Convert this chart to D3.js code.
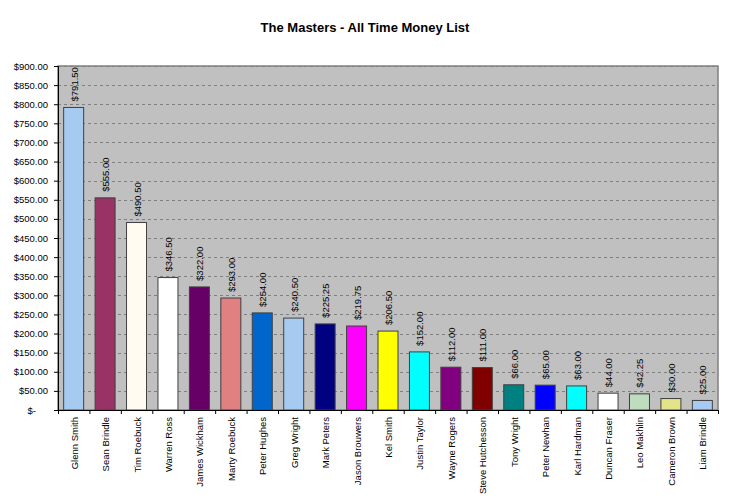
<!DOCTYPE html>
<html><head><meta charset="utf-8">
<script src="https://cdn.jsdelivr.net/npm/d3@7"></script>
<style>body{margin:0;background:#fff}svg{display:block;font-family:"Liberation Sans",Arial,sans-serif}</style>
</head><body><svg id="c" width="730" height="499"></svg>
<script>
const names = ["Glenn Smith","Sean Brindle","Tim Roebuck","Warren Ross","James Wickham","Marty Roebuck","Peter Hughes","Greg Wright","Mark Peters","Jason Brouwers","Kel Smith","Justin Taylor","Wayne Rogers","Steve Hutchesson","Tony Wright","Peter Newhan","Karl Hardman","Duncan Fraser","Leo Makhlin","Cameron Brown","Liam Brindle"];
const values = [791.50,555.00,490.50,346.50,322.00,293.00,254.00,240.50,225.25,219.75,206.50,152.00,112.00,111.00,66.00,65.00,63.00,44.00,42.25,30.00,25.00];
const colors = ["#a6caf0","#993366","#fffbf0","#ffffff","#660066","#e08080","#0066cc","#a6caf0","#000080","#ff00ff","#ffff00","#00ffff","#800080","#800000","#008080","#0000ff","#00ffff","#ffffff","#c0dcc0","#e3e38a","#a6caf0"];
const yTicks = [0,50,100,150,200,250,300,350,400,450,500,550,600,650,700,750,800,850,900];
const title = "The Masters - All Time Money List";

const cats = names;
const svg = d3.select("#c");
const L=58, R=718, T=66, B=410;
const x = d3.scaleBand().domain(cats).range([L,R]).paddingInner(0.364).paddingOuter(0.18);
const y = d3.scaleLinear().domain([0,900]).range([B,T]);
const fmt = v => v===0 ? "$-" : "$" + d3.format(",.2f")(v);

svg.append("text").attr("x",365).attr("y",32).attr("text-anchor","middle")
  .attr("font-size",13).attr("font-weight","bold").text(title);

svg.append("rect").attr("x",L).attr("y",T).attr("width",R-L).attr("height",B-T)
  .attr("fill","#c0c0c0").attr("stroke","#808080").attr("stroke-width",1.5);

svg.append("g").selectAll("line").data(yTicks.filter(d=>d>0)).join("line")
  .attr("x1",L).attr("x2",R).attr("y1",d=>Math.round(y(d))+0.5).attr("y2",d=>Math.round(y(d))+0.5)
  .attr("stroke","#808080").attr("stroke-dasharray","3,3");

svg.append("g").selectAll("rect").data(cats).join("rect")
  .attr("x",d=>x(d)).attr("width",x.bandwidth())
  .attr("y",(d,i)=>y(values[i])).attr("height",(d,i)=>B-y(values[i]))
  .attr("fill",(d,i)=>colors[i]).attr("stroke","#404040").attr("stroke-width",1);

svg.append("g").selectAll("text").data(cats).join("text")
  .attr("transform",(d,i)=>`translate(${x(d)+x.bandwidth()/2+4},${y(values[i])-6}) rotate(-90)`)
  .attr("font-size",9.5).attr("fill","#000").text((d,i)=>fmt(values[i]));

const ya = d3.axisLeft(y).tickValues(yTicks).tickSize(4).tickPadding(6).tickFormat(fmt);
const gy = svg.append("g").attr("transform",`translate(${L},0)`).call(ya);
gy.select(".domain").attr("stroke","#000");
gy.selectAll("text").attr("font-size",9.5).attr("font-family","Liberation Sans, Arial").attr("fill","#000")
  .attr("dx",d=>d===0?"-12":"0");

const xa = d3.axisBottom(d3.scaleLinear().domain([0,cats.length]).range([L,R]))
  .tickValues(d3.range(cats.length+1)).tickSize(4).tickFormat("");
const gx = svg.append("g").attr("transform",`translate(0,${B})`).call(xa);
gx.select(".domain").attr("stroke","#000");

svg.append("g").selectAll("text").data(cats).join("text")
  .attr("transform",d=>`translate(${x(d)+x.bandwidth()/2+4},${B+7}) rotate(-90)`)
  .attr("text-anchor","end").attr("font-size",9.5).text(d=>d);
</script></body></html>
